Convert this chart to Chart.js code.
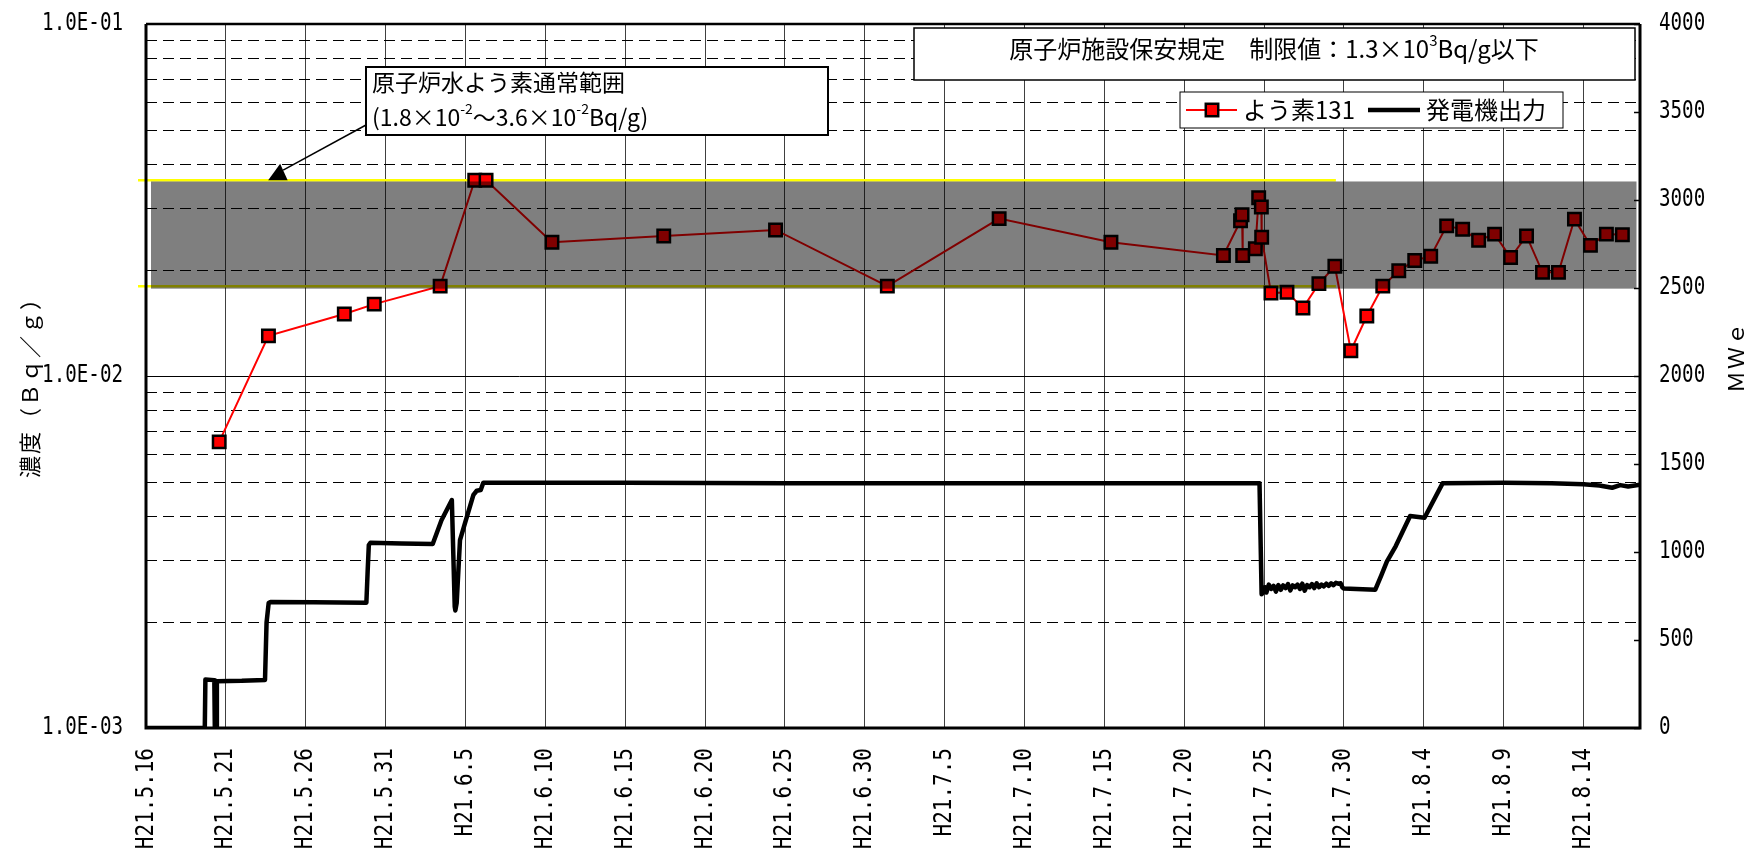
<!DOCTYPE html>
<html>
<head>
<meta charset="utf-8">
<script src="https://cdn.jsdelivr.net/npm/chart.js@4.4.1/dist/chart.umd.min.js"></script>
<style>
  html, body { margin: 0; padding: 0; background: #fff; }
  #wrap { width: 1763px; height: 853px; }
</style>
</head>
<body>
<div id="wrap"><canvas id="c" width="1763" height="853"></canvas></div>
<script>
// ---- time axis -------------------------------------------------------------
const axisStart = '2009-05-16 00:00';
const axisEnd   = '2009-08-17 13:00';

const xTickDates = ['2009-05-16','2009-05-21','2009-05-26','2009-05-31','2009-06-05',
  '2009-06-10','2009-06-15','2009-06-20','2009-06-25','2009-06-30','2009-07-05',
  '2009-07-10','2009-07-15','2009-07-20','2009-07-25','2009-07-30','2009-08-04',
  '2009-08-09','2009-08-14'];
const xTickLabels = ['H21.5.16','H21.5.21','H21.5.26','H21.5.31','H21.6.5',
  'H21.6.10','H21.6.15','H21.6.20','H21.6.25','H21.6.30','H21.7.5',
  'H21.7.10','H21.7.15','H21.7.20','H21.7.25','H21.7.30','H21.8.4',
  'H21.8.9','H21.8.14'];

// ---- left axis: iodine-131 concentration (Bq/g, log) ----------------------
const concTicks = [0.001, 0.01, 0.1];
const concTickLabels = ['1.0E-03', '1.0E-02', '1.0E-01'];

// ---- right axis: generator output (MWe) -----------------------------------
const powerTicks = [0, 500, 1000, 1500, 2000, 2500, 3000, 3500, 4000];
const powerTickLabels = ['0','500','1000','1500','2000','2500','3000','3500','4000'];

// ---- reactor water iodine normal range ------------------------------------
const normalRange = [0.018, 0.036];
const normalRangeLineFrom = '2009-05-15 12:00';
const normalRangeLineTo   = '2009-07-29 12:00';

// ---- よう素131 samples ------------------------------------------------------
const iodineTimes = [
  '2009-05-20 14:00','2009-05-23 16:00','2009-05-28 10:00','2009-05-30 07:00',
  '2009-06-03 10:00','2009-06-05 14:00','2009-06-06 07:00','2009-06-10 10:00',
  '2009-06-17 10:00','2009-06-24 10:00','2009-07-01 10:00','2009-07-08 10:00',
  '2009-07-15 10:00','2009-07-22 11:00','2009-07-23 12:45','2009-07-23 15:00',
  '2009-07-23 16:00','2009-07-24 11:00','2009-07-24 16:00','2009-07-24 20:00',
  '2009-07-24 20:30','2009-07-25 10:30','2009-07-26 10:30','2009-07-27 10:30',
  '2009-07-28 10:30','2009-07-29 10:30','2009-07-30 10:30','2009-07-31 10:30',
  '2009-08-01 10:30','2009-08-02 10:30','2009-08-03 10:30','2009-08-04 10:30',
  '2009-08-05 10:30','2009-08-06 10:30','2009-08-07 10:30','2009-08-08 10:30',
  '2009-08-09 10:30','2009-08-10 10:30','2009-08-11 10:30','2009-08-12 10:30',
  '2009-08-13 10:30','2009-08-14 10:30','2009-08-15 10:30','2009-08-16 10:30'];
const iodineValues = [
  0.0065, 0.013, 0.015, 0.016,
  0.018, 0.036, 0.036, 0.024,
  0.025, 0.026, 0.018, 0.028,
  0.024, 0.022, 0.0276, 0.0287,
  0.022, 0.023, 0.0321, 0.0302,
  0.0248, 0.0172, 0.0173, 0.0156,
  0.0183, 0.0205, 0.0118, 0.0148,
  0.0180, 0.0199, 0.0213, 0.0219,
  0.0267, 0.0261, 0.0243, 0.0253,
  0.0217, 0.0250, 0.0197, 0.0197,
  0.0279, 0.0235, 0.0253, 0.0252];

// ---- 発電機出力 (MWe) --------------------------------------------------------
const powerTimes = [
  '2009-05-16 00:00','2009-05-19 16:20','2009-05-19 17:15','2009-05-20 06:40',
  '2009-05-20 07:25','2009-05-20 09:35','2009-05-20 10:30','2009-05-22 00:00',
  '2009-05-23 10:50','2009-05-23 13:10','2009-05-23 16:20','2009-05-23 19:10',
  '2009-05-26 12:00','2009-05-29 19:10','2009-05-29 21:10','2009-05-29 22:50',
  '2009-05-30 01:10','2009-06-01 00:00','2009-06-02 22:50','2009-06-03 12:00',
  '2009-06-04 03:35','2009-06-04 07:55','2009-06-04 08:50','2009-06-04 10:50',
  '2009-06-04 15:50','2009-06-04 23:15','2009-06-05 12:00','2009-06-05 17:00',
  '2009-06-05 23:00','2009-06-06 02:50','2009-06-15 00:00','2009-06-25 00:00',
  '2009-07-05 00:00','2009-07-15 00:00','2009-07-24 17:15','2009-07-24 20:25',
  '2009-07-24 21:35','2009-07-25 01:10','2009-07-25 03:35','2009-07-25 07:10',
  '2009-07-25 10:50','2009-07-25 14:25','2009-07-25 18:00','2009-07-25 21:35',
  '2009-07-26 01:10','2009-07-26 04:50','2009-07-26 08:25','2009-07-26 12:00',
  '2009-07-26 15:35','2009-07-26 19:10','2009-07-26 22:50','2009-07-27 02:25',
  '2009-07-27 06:00','2009-07-27 09:35','2009-07-27 13:10','2009-07-27 16:50',
  '2009-07-27 20:25','2009-07-28 00:00','2009-07-28 03:35','2009-07-28 07:10',
  '2009-07-28 10:50','2009-07-28 14:25','2009-07-28 18:00','2009-07-28 21:35',
  '2009-07-29 01:10','2009-07-29 04:50','2009-07-29 08:25','2009-07-29 12:00',
  '2009-07-29 15:35','2009-07-29 19:10','2009-07-29 21:35','2009-07-30 00:00',
  '2009-07-31 23:15','2009-08-01 08:25','2009-08-01 16:35','2009-08-02 06:00',
  '2009-08-03 03:35','2009-08-04 01:10','2009-08-05 04:20','2009-08-09 00:00',
  '2009-08-12 00:00','2009-08-14 00:00','2009-08-15 00:00','2009-08-15 19:10',
  '2009-08-16 07:10','2009-08-16 19:10','2009-08-17 13:00'];
const powerValues = [
  0, 0, 276, 272,
  0, 0, 266, 268,
  273, 600, 710, 716,
  714, 712, 900, 1040,
  1052, 1048, 1045, 1180,
  1295, 690, 668, 710,
  1068, 1163, 1324, 1348,
  1352, 1394, 1393, 1391,
  1390, 1390, 1390, 760,
  765, 800, 770, 815,
  790, 808, 775, 812,
  785, 810, 795, 818,
  782, 810, 800, 815,
  790, 820, 780, 812,
  800, 818, 795, 822,
  800, 815, 805, 820,
  808, 822, 812, 825,
  820, 822, 800, 792,
  786, 869, 945, 1034,
  1205, 1195, 1390, 1393,
  1390, 1385, 1378, 1365,
  1380, 1372, 1382];

// ---- helpers ---------------------------------------------------------------
function dayOf(s) {
  const [d, t] = s.split(' ');
  const [Y, M, D] = d.split('-').map(Number);
  const [h, mi] = (t || '00:00').split(':').map(Number);
  const [Y0, M0, D0] = axisStart.split(' ')[0].split('-').map(Number);
  return (Date.UTC(Y, M - 1, D, h, mi) - Date.UTC(Y0, M0 - 1, D0)) / 86400000;
}

const CJK = '"Noto Sans CJK JP", "Noto Sans CJK SC", sans-serif';
const MONO = '"DejaVu Sans Mono", monospace';

// narrow monospace numerals
function drawNarrow(ctx, text, x, y, size, sx, align, rot) {
  ctx.save();
  ctx.translate(x, y);
  if (rot) ctx.rotate(rot);
  ctx.scale(sx, 1);
  ctx.font = size + 'px ' + MONO;
  ctx.fillStyle = '#000';
  ctx.textAlign = align;
  ctx.textBaseline = 'middle';
  ctx.fillText(text, 0, 0);
  ctx.restore();
}

// text with superscript runs: parts = [[text, isSup], ...]
function drawRich(ctx, parts, x, y, size, align) {
  const base = size + 'px ' + CJK;
  const sup = Math.round(size * 0.62) + 'px ' + CJK;
  let total = 0;
  parts.forEach(p => { ctx.font = p[1] ? sup : base; total += ctx.measureText(p[0]).width; });
  let cx = align === 'center' ? x - total / 2 : x;
  ctx.textAlign = 'left';
  ctx.textBaseline = 'middle';
  ctx.fillStyle = '#000';
  parts.forEach(p => {
    ctx.font = p[1] ? sup : base;
    ctx.fillText(p[0], cx, p[1] ? y - size * 0.36 : y);
    cx += ctx.measureText(p[0]).width;
  });
}

function boxRect(ctx, x0, y0, x1, y1, lw) {
  ctx.fillStyle = '#fff';
  ctx.fillRect(x0, y0, x1 - x0, y1 - y0);
  ctx.strokeStyle = '#000';
  ctx.lineWidth = lw;
  ctx.strokeRect(x0, y0, x1 - x0, y1 - y0);
}

// ---- decorations drawn around the plot -------------------------------------
const plotDecor = {
  id: 'plotDecor',
  beforeDatasetsDraw(chart) {
    const { ctx, chartArea: a, scales: { x, y } } = chart;
    ctx.save();
    // log gridlines: solid at decades, dashed between
    for (let e = -3; e <= -1; e++) {
      for (let m = 1; m <= 9; m++) {
        const v = m * Math.pow(10, e);
        if (v <= concTicks[0] * 1.0001 || v >= concTicks[concTicks.length - 1] * 0.9999) continue;
        const py = Math.round(y.getPixelForValue(v)) + 0.5;
        ctx.setLineDash(m === 1 ? [] : [11, 6]);
        ctx.strokeStyle = '#000';
        ctx.lineWidth = 1;
        ctx.beginPath(); ctx.moveTo(a.left, py); ctx.lineTo(a.right, py); ctx.stroke();
      }
    }
    ctx.setLineDash([]);
    // normal range limit lines
    const x0 = x.getPixelForValue(dayOf(normalRangeLineFrom));
    const x1 = x.getPixelForValue(dayOf(normalRangeLineTo));
    ctx.strokeStyle = '#ffff00';
    ctx.lineWidth = 2.5;
    normalRange.forEach(v => {
      const py = y.getPixelForValue(v);
      ctx.beginPath(); ctx.moveTo(x0, py); ctx.lineTo(x1, py); ctx.stroke();
    });
    ctx.restore();
  },
  afterDatasetsDraw(chart) {
    const { ctx, chartArea: a, scales: { y } } = chart;
    // translucent normal-range band over the series
    const top = y.getPixelForValue(normalRange[1]) + 1.3;
    const bot = y.getPixelForValue(normalRange[0]) + 2.5;
    ctx.save();
    ctx.fillStyle = 'rgba(0,0,0,0.5)';
    ctx.fillRect(a.left + 5, top, a.right - 3.5 - (a.left + 5), bot - top);
    ctx.restore();
  },
  afterDraw(chart) {
    const { ctx, chartArea: a, scales: { x, y, y2 } } = chart;
    ctx.save();
    // plot frame
    ctx.strokeStyle = '#000';
    ctx.lineWidth = 3;
    ctx.beginPath();
    ctx.moveTo(a.left, a.top); ctx.lineTo(a.left, a.bottom); ctx.lineTo(a.right, a.bottom); ctx.lineTo(a.right, a.top);
    ctx.stroke();
    ctx.lineWidth = 2.5;
    ctx.beginPath(); ctx.moveTo(a.left, a.top); ctx.lineTo(a.right, a.top); ctx.stroke();
    // inner tick marks of the output axis
    ctx.lineWidth = 1.5;
    powerTicks.forEach(v => {
      const py = Math.round(y2.getPixelForValue(v)) + 0.5;
      ctx.beginPath(); ctx.moveTo(a.right - 6, py); ctx.lineTo(a.right, py); ctx.stroke();
    });

    // tick labels
    concTicks.forEach((v, i) => drawNarrow(ctx, concTickLabels[i], a.left - 23, y.getPixelForValue(v), 24, 0.8, 'right', 0));
    powerTicks.forEach((v, i) => drawNarrow(ctx, powerTickLabels[i], a.right + 19, y2.getPixelForValue(v), 24, 0.8, 'left', 0));
    xTickDates.forEach((d, i) => drawNarrow(ctx, xTickLabels[i], x.getPixelForValue(dayOf(d)), a.bottom + 20, 25, 0.84, 'right', -Math.PI / 2));

    // axis titles
    ctx.fillStyle = '#000';
    ctx.font = '22px ' + CJK;
    ctx.textAlign = 'center';
    ctx.textBaseline = 'middle';
    ctx.letterSpacing = '2px';
    ctx.save(); ctx.translate(30, 382); ctx.rotate(-Math.PI / 2); ctx.fillText('濃度（Ｂｑ／ｇ）', 0, 0); ctx.restore();
    ctx.save(); ctx.translate(1736, 357); ctx.rotate(-Math.PI / 2); ctx.fillText('ＭＷｅ', 0, 0); ctx.restore();
    ctx.letterSpacing = '0px';

    // regulatory limit box
    boxRect(ctx, 914, 28, 1635, 80, 1.5);
    drawRich(ctx, [['原子炉施設保安規定　制限値：1.3×10', false], ['3', true], ['Bq/g以下', false]], 1274, 49, 24, 'center');

    // normal range note with arrow
    const tipX = x.getPixelForValue(8.4), tipY = y.getPixelForValue(normalRange[1]);
    ctx.strokeStyle = '#000';
    ctx.lineWidth = 1.5;
    ctx.beginPath(); ctx.moveTo(366, 125); ctx.lineTo(tipX + 3, tipY - 10); ctx.stroke();
    ctx.fillStyle = '#000';
    ctx.beginPath(); ctx.moveTo(tipX, tipY - 16.5); ctx.lineTo(tipX + 7.5, tipY); ctx.lineTo(tipX - 12, tipY); ctx.closePath(); ctx.fill();
    boxRect(ctx, 366, 67, 828, 135, 2);
    drawRich(ctx, [['原子炉水よう素通常範囲', false]], 372, 82, 23, 'left');
    drawRich(ctx, [['(1.8×10', false], ['-2', true], ['～3.6×10', false], ['-2', true], ['Bq/g)', false]], 372, 117, 23, 'left');

    // legend
    const iod = chart.data.datasets[0], pw = chart.data.datasets[1];
    boxRect(ctx, 1180, 92, 1563, 128, 1);
    const ly = 110;
    ctx.strokeStyle = iod.borderColor; ctx.lineWidth = iod.borderWidth;
    ctx.beginPath(); ctx.moveTo(1186, ly); ctx.lineTo(1237, ly); ctx.stroke();
    const s = iod.pointRadius * Math.SQRT1_2;
    ctx.fillStyle = iod.pointBackgroundColor;
    ctx.fillRect(1212 - s, ly - s, 2 * s, 2 * s);
    ctx.strokeStyle = iod.pointBorderColor; ctx.lineWidth = iod.pointBorderWidth;
    ctx.strokeRect(1212 - s, ly - s, 2 * s, 2 * s);
    drawRich(ctx, [[iod.label, false]], 1243, ly, 24, 'left');
    ctx.strokeStyle = pw.borderColor; ctx.lineWidth = pw.borderWidth;
    ctx.beginPath(); ctx.moveTo(1368, ly); ctx.lineTo(1420, ly); ctx.stroke();
    drawRich(ctx, [[pw.label, false]], 1426, ly, 24, 'left');
    ctx.restore();
  }
};

// ---- chart -----------------------------------------------------------------
const ctx = document.getElementById('c').getContext('2d');
new Chart(ctx, {
  type: 'line',
  data: {
    datasets: [
      {
        label: 'よう素131',
        data: iodineTimes.map((t, i) => ({ x: dayOf(t), y: iodineValues[i] })),
        yAxisID: 'y',
        borderColor: '#ff0000',
        borderWidth: 2,
        pointStyle: 'rect',
        pointRadius: 8.8,
        pointBackgroundColor: '#ff0000',
        pointBorderColor: '#000000',
        pointBorderWidth: 2.5,
        tension: 0,
        order: 1
      },
      {
        label: '発電機出力',
        data: powerTimes.map((t, i) => ({ x: dayOf(t), y: powerValues[i] })),
        yAxisID: 'y2',
        borderColor: '#000000',
        borderWidth: 4.5,
        borderJoinStyle: 'round',
        borderCapStyle: 'round',
        pointRadius: 0,
        tension: 0,
        order: 2
      }
    ]
  },
  options: {
    responsive: false,
    animation: false,
    events: [],
    layout: { padding: { top: 24, left: 0, right: 0, bottom: 0 } },
    plugins: { legend: { display: false }, tooltip: { enabled: false } },
    scales: {
      x: {
        type: 'linear',
        min: 0,
        max: dayOf(axisEnd),
        afterBuildTicks: s => { s.ticks = xTickDates.map(d => ({ value: dayOf(d) })); },
        afterFit: s => { s.height = 125; },
        ticks: { display: false },
        grid: { color: 'rgba(0,0,0,0.75)', lineWidth: 1, drawTicks: false },
        border: { display: false }
      },
      y: {
        type: 'logarithmic',
        position: 'left',
        min: concTicks[0],
        max: concTicks[concTicks.length - 1],
        afterFit: s => { s.width = 146; },
        ticks: { display: false },
        grid: { display: false, drawTicks: false },
        border: { display: false }
      },
      y2: {
        type: 'linear',
        position: 'right',
        min: powerTicks[0],
        max: powerTicks[powerTicks.length - 1],
        afterFit: s => { s.width = 123; },
        ticks: { display: false, stepSize: 500 },
        grid: { display: false, drawTicks: false },
        border: { display: false }
      }
    }
  },
  plugins: [plotDecor]
});
</script>
</body>
</html>
